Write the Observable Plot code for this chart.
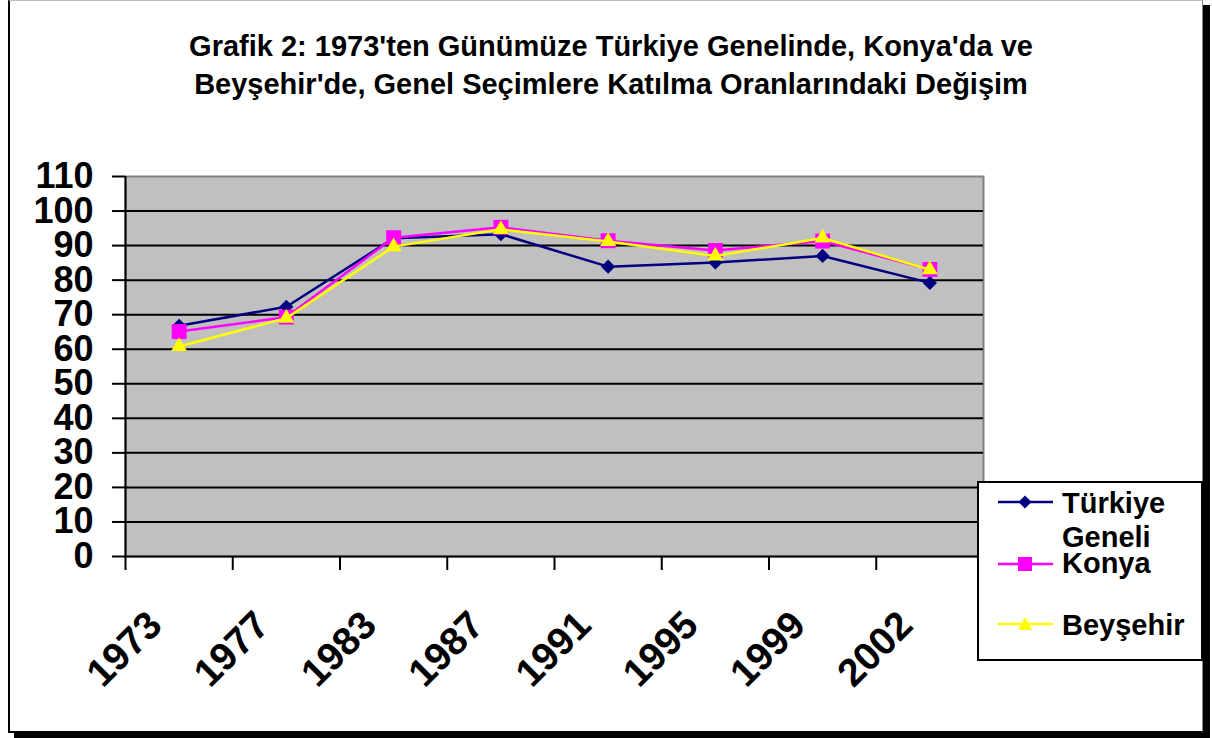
<!DOCTYPE html>
<html>
<head>
<meta charset="utf-8">
<script src="https://cdn.jsdelivr.net/npm/d3@7"></script>
<script src="https://cdn.jsdelivr.net/npm/@observablehq/plot@0.6"></script>
<style>
  html, body { margin: 0; padding: 0; background: #fff; }
  #wrap { position: relative; width: 1212px; height: 738px; overflow: hidden; font-family: "Liberation Sans", Arial, sans-serif; }
  #wrap svg.plotsvg { position: absolute; left: 0; top: 0; }
  .abs { position: absolute; }
  .title { left: 0; width: 1222px; top: 27px; text-align: center; font-size: 29px; line-height: 38px; font-weight: bold; color: #000; }
  .leg { font-size: 29px; line-height: 34px; font-weight: bold; color: #000; white-space: nowrap; }
</style>
</head>
<body>
<div id="wrap">
  <div class="abs" style="left:8px;top:0;width:1195px;height:733px;box-sizing:border-box;border-left:2px solid #000;border-bottom:2px solid #000;border-right:1px solid #888;border-top:1px solid #bbb;"></div>
  <div class="abs" style="left:1203px;top:5px;width:7px;height:733px;background:#000;"></div>
  <div class="abs" style="left:14px;top:733px;width:1196px;height:5px;background:#000;"></div>
  <div class="abs title" id="title"></div>
</div>
<script>
// ---- data ----
const years = ["1973", "1977", "1983", "1987", "1991", "1995", "1999", "2002"];
const turkiye = [66.8, 72.3, 92.1, 93.3, 83.9, 85.1, 87.0, 79.2];
const konya = [65.1, 69.3, 92.3, 95.3, 91.4, 88.6, 91.3, 83.1];
const beysehir = [60.8, 69.0, 89.7, 94.7, 91.2, 87.0, 92.2, 83.0];
const yTicks = [0, 10, 20, 30, 40, 50, 60, 70, 80, 90, 100, 110];
const titleLines = ["Grafik 2: 1973'ten Günümüze Türkiye Genelinde, Konya'da ve", "Beyşehir'de, Genel Seçimlere Katılma Oranlarındaki Değişim"];
const seriesNames = ["Türkiye Geneli", "Konya", "Beyşehir"];
const seriesColors = ["#000080", "#ff00ff", "#ffff00"];
const seriesSymbols = ["diamond2", "square", "triangle"];
const seriesR = [6.4, 8.4, 5.9];
const seriesData = [turkiye, konya, beysehir];

const wrap = document.getElementById("wrap");
document.getElementById("title").innerHTML = titleLines.join("<br>");

const pos = (d, i) => i + 0.5;
const seriesMarks = seriesData.flatMap((vals, k) => [
  Plot.line(vals, {x: pos, y: d => d, stroke: seriesColors[k], strokeWidth: 2.5}),
  Plot.dot(vals, {x: pos, y: d => d, symbol: seriesSymbols[k], fill: seriesColors[k], stroke: "none", r: seriesR[k]})
]);

const chart = Plot.plot({
  width: 1212,
  height: 738,
  marginLeft: 125,
  marginRight: 229,
  marginTop: 176,
  marginBottom: 182,
  x: {domain: [0, years.length], axis: null},
  y: {domain: [0, 110], axis: null},
  style: {fontFamily: "'Liberation Sans', Arial, sans-serif", background: "transparent", overflow: "visible", color: "#000"},
  marks: [
    Plot.frame({fill: "#c0c0c0", stroke: "#808080", strokeWidth: 2}),
    Plot.gridY(yTicks.filter(t => t > 0 && t < 110), {stroke: "#000", strokeOpacity: 1, strokeWidth: 2}),
    Plot.axisY({ticks: yTicks, tickSize: 13, tickPadding: 19, fontSize: 36, fontWeight: "bold", strokeWidth: 2}),
    Plot.axisX({ticks: d3.range(years.length + 1), tickSize: 14, tickFormat: () => "", strokeWidth: 2}),
    Plot.ruleX([0], {stroke: "#000", strokeWidth: 2}),
    Plot.ruleY([0], {stroke: "#000", strokeWidth: 2}),
    Plot.text(years, {x: pos, frameAnchor: "bottom", rotate: -45, textAnchor: "end", lineAnchor: "bottom", dx: -15, dy: 71, fontSize: 39, fontWeight: "bold", fill: "#000"}),
    ...seriesMarks
  ]
});
chart.classList.add("plotsvg");
wrap.appendChild(chart);

// ---- legend ----
const box = document.createElement("div");
box.className = "abs";
box.style.cssText = "left:977px;top:481px;width:226px;height:180px;box-sizing:border-box;border:2px solid #000;background:#fff;";
wrap.appendChild(box);
const lineYs = [502, 564, 624];
const textTops = [486, 546, 608];
const symbolPaths = {
  diamond2: "M0,-6.5L6.5,0L0,6.5L-6.5,0Z",
  square: "M-7,-7H7V7H-7Z",
  triangle: "M0,-7L7,6H-7Z"
};
seriesNames.forEach((name, k) => {
  const sw = document.createElementNS("http://www.w3.org/2000/svg", "svg");
  sw.setAttribute("width", 60); sw.setAttribute("height", 20);
  sw.style.cssText = `position:absolute;left:996px;top:${lineYs[k] - 10}px;`;
  sw.innerHTML = `<line x1="2" x2="57" y1="10" y2="10" stroke="${seriesColors[k]}" stroke-width="2.5"/>` +
    `<path transform="translate(29,10)" d="${symbolPaths[seriesSymbols[k]]}" fill="${seriesColors[k]}"/>`;
  wrap.appendChild(sw);
  const t = document.createElement("div");
  t.className = "abs leg";
  t.style.left = "1062px";
  t.style.top = textTops[k] + "px";
  t.innerHTML = name.split(" ").join("<br>");
  wrap.appendChild(t);
});
</script>
</body>
</html>
